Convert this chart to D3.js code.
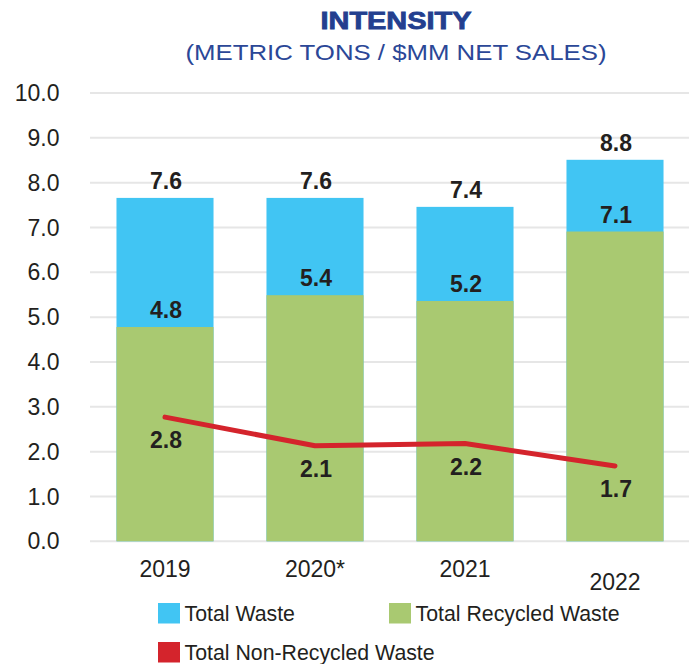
<!DOCTYPE html>
<meta charset="utf-8">
<script src="https://cdn.jsdelivr.net/npm/d3@7"></script>
<style>
  body { margin: 0; background: #fff; }
  text { font-family: "Liberation Sans", Arial, sans-serif; fill: #231f20; }
</style>
<div id="chart"></div>
<script>

// data
var years = ["2019", "2020*", "2021", "2022"];
var totalWaste = [7.66, 7.66, 7.46, 8.51];
var recycledWaste = [4.78, 5.49, 5.36, 6.91];
var nonRecycledWaste = [2.77, 2.13, 2.18, 1.68];
var totalLabels = ["7.6", "7.6", "7.4", "8.8"];
var recycledLabels = ["4.8", "5.4", "5.2", "7.1"];
var nonRecycledLabels = ["2.8", "2.1", "2.2", "1.7"];
var yTicks = [0, 1, 2, 3, 4, 5, 6, 7, 8, 9, 10];
var legendItems = ["Total Waste", "Total Recycled Waste", "Total Non-Recycled Waste"];

var colors = {total: "#41c5f3", recycled: "#a9c971", nonrec: "#d4242c"};

var W = 689, H = 664;
var svg = d3.select("#chart").append("svg")
    .attr("width", W)
    .attr("height", H);

// titles
svg.append("text")
    .attr("x", 396).attr("y", 28.5)
    .attr("text-anchor", "middle")
    .attr("textLength", 151).attr("lengthAdjust", "spacingAndGlyphs")
    .style("font-size", "23px").style("font-weight", "bold")
    .style("fill", "#233f8f")
    .style("stroke", "#233f8f").style("stroke-width", 0.8)
    .text("INTENSITY");

svg.append("text")
    .attr("x", 396).attr("y", 59.5)
    .attr("text-anchor", "middle")
    .attr("textLength", 421).attr("lengthAdjust", "spacingAndGlyphs")
    .style("font-size", "22px")
    .style("fill", "#2b4797")
    .text("(METRIC TONS / $MM NET SALES)");

// scales
var x = d3.scaleBand()
    .domain(years)
    .range([90, 690])
    .paddingInner(0.353)
    .paddingOuter(0.1765);

var y = d3.scaleLinear()
    .domain([0, 10])
    .range([541.3, 93]);

// grid lines
svg.append("g").selectAll("line")
  .data(yTicks)
  .enter().append("line")
    .attr("x1", 90).attr("x2", W)
    .attr("y1", function(d) { return y(d); })
    .attr("y2", function(d) { return y(d); })
    .attr("stroke", "#e6e6e6")
    .attr("stroke-width", 2);

// y axis labels
svg.append("g").selectAll("text")
  .data(yTicks)
  .enter().append("text")
    .attr("x", 59.5)
    .attr("y", function(d) { return y(d); })
    .attr("dy", "0.35em")
    .attr("text-anchor", "end")
    .style("font-size", "23px")
    .text(function(d) { return d.toFixed(1); });

// bars: total waste behind, recycled in front
svg.append("g").selectAll("rect")
  .data(years)
  .enter().append("rect")
    .attr("x", function(d) { return x(d); })
    .attr("width", x.bandwidth())
    .attr("y", function(d, i) { return y(totalWaste[i]); })
    .attr("height", function(d, i) { return y(0) - y(totalWaste[i]); })
    .attr("fill", colors.total);

svg.append("g").selectAll("rect")
  .data(years)
  .enter().append("rect")
    .attr("x", function(d) { return x(d); })
    .attr("width", x.bandwidth())
    .attr("y", function(d, i) { return y(recycledWaste[i]); })
    .attr("height", function(d, i) { return y(0) - y(recycledWaste[i]); })
    .attr("fill", colors.recycled);

function cx(d) { return x(d) + x.bandwidth() / 2; }

// non-recycled line
var line = d3.line()
    .x(function(d) { return cx(d); })
    .y(function(d, i) { return y(nonRecycledWaste[i]); });

svg.append("path")
    .datum(years)
    .attr("d", line)
    .attr("fill", "none")
    .attr("stroke", colors.nonrec)
    .attr("stroke-width", 5)
    .attr("stroke-linecap", "round")
    .attr("stroke-linejoin", "round");

// value labels
function valueLabels(vals, labels, dy) {
  svg.append("g").selectAll("text")
    .data(years)
    .enter().append("text")
      .attr("x", function(d) { return cx(d) + 1; })
      .attr("y", function(d, i) { return y(vals[i]) + dy; })
      .attr("text-anchor", "middle")
      .style("font-size", "23px").style("font-weight", "bold")
      .text(function(d, i) { return labels[i]; });
}
valueLabels(totalWaste, totalLabels, -9);
valueLabels(recycledWaste, recycledLabels, -9);
valueLabels(nonRecycledWaste, nonRecycledLabels, 31);

// x labels (last one sits lower in the original)
svg.append("g").selectAll("text")
  .data(years)
  .enter().append("text")
    .attr("x", function(d) { return cx(d); })
    .attr("y", function(d, i) { return i === 3 ? 590 : 576.5; })
    .attr("text-anchor", "middle")
    .style("font-size", "23px")
    .text(function(d) { return d; });

// legend
var legendPos = [[158, 603], [389, 603], [158, 642]];
var legendColors = [colors.total, colors.recycled, colors.nonrec];
var lg = svg.append("g").selectAll("g")
  .data(legendItems)
  .enter().append("g")
    .attr("transform", function(d, i) { return "translate(" + legendPos[i][0] + "," + legendPos[i][1] + ")"; });

lg.append("rect")
    .attr("width", 22).attr("height", 20.5)
    .attr("fill", function(d, i) { return legendColors[i]; });

lg.append("text")
    .attr("x", 26.5).attr("y", 17.5)
    .style("font-size", "21.3px")
    .text(function(d) { return d; });

</script>
